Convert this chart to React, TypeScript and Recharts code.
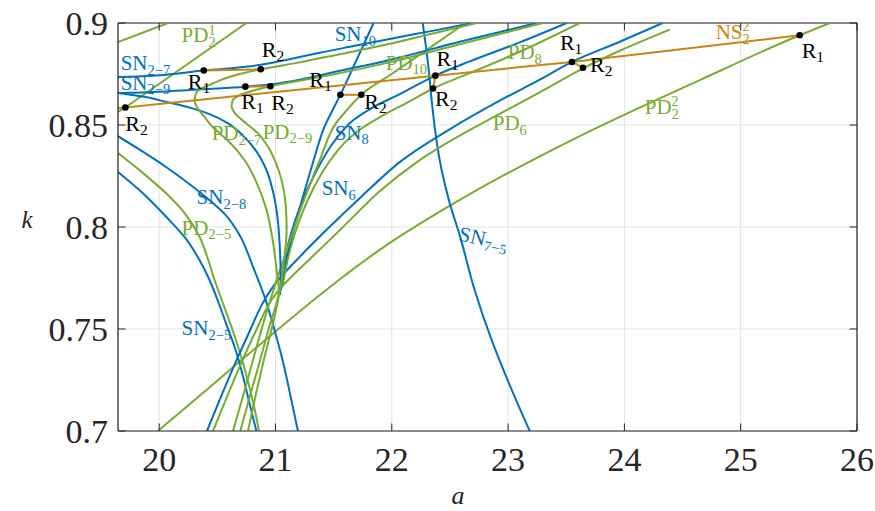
import React from "react";
import { CartesianGrid, ComposedChart, Line, ReferenceLine, Scatter, XAxis, YAxis } from "recharts";

const W = 875;
const H = 511;
const MARGIN = { top: 23, right: 18, bottom: 0, left: 0 };
const Y_AXIS_W = 118;
const X_AXIS_H = 80;
const PLOT_W = W - MARGIN.left - MARGIN.right - Y_AXIS_W;
const PLOT_H = H - MARGIN.top - MARGIN.bottom - X_AXIS_H;
const TICK_LEN = 7.5;

const A_MIN = 19.646;
const A_MAX = 26;
const K_MIN = 0.7;
const K_MAX = 0.9;

const BLUE = "#0072BD";
const GREEN = "#77AC30";
const ORANGE = "#c8870f";
const AXIS = "#262626";
const SERIF = '"Liberation Serif", "DejaVu Serif", serif';

const xTicks = [20, 21, 22, 23, 24, 25, 26];
const yTicks = [0.7, 0.75, 0.8, 0.85, 0.9];

// saddle-node curves, [a, k]
const sn27 = [[19.646, 0.8735], [20.004, 0.8744], [20.383, 0.8767], [20.623, 0.8778], [20.873, 0.8795], [21.122, 0.8822], [21.38, 0.8854], [21.681, 0.8888], [21.982, 0.8922], [22.326, 0.8959], [22.696, 0.9]];
const sn29Upper = [[19.646, 0.8657], [20.004, 0.8663], [20.262, 0.8672], [20.503, 0.8679], [20.741, 0.8688], [20.967, 0.87], [21.208, 0.8722], [21.524, 0.8762], [21.982, 0.8819], [22.584, 0.8908], [23.246, 0.9]];
const sn29Lower = [[19.646, 0.8657], [19.875, 0.8638], [20.062, 0.8613], [20.262, 0.8585], [20.434, 0.8553], [20.589, 0.8509], [20.718, 0.845], [20.83, 0.8376], [20.916, 0.8288], [20.976, 0.818], [21.015, 0.8058], [21.036, 0.7911], [21.045, 0.7764], [21.04, 0.7666]];
const sn28 = [[19.646, 0.8445], [19.832, 0.8379], [20.062, 0.8293], [20.245, 0.8217], [20.434, 0.8131], [20.572, 0.8058], [20.692, 0.796], [20.808, 0.7803], [20.907, 0.7656], [20.985, 0.7509], [21.065, 0.7338], [21.131, 0.7167], [21.193, 0.7]];
const sn25 = [[19.646, 0.827], [19.832, 0.818], [20.062, 0.8049], [20.219, 0.795], [20.348, 0.7837], [20.434, 0.7739], [20.503, 0.7641], [20.58, 0.7519], [20.658, 0.7396], [20.718, 0.7274], [20.77, 0.7151], [20.836, 0.7]];
const sn75 = [[22.266, 0.9], [22.292, 0.8891], [22.318, 0.8768], [22.343, 0.8621], [22.378, 0.845], [22.429, 0.8278], [22.498, 0.8117], [22.584, 0.796], [22.713, 0.769], [22.859, 0.7445], [23.014, 0.7225], [23.186, 0.7]];
const sn10 = [[21.045, 0.769], [21.079, 0.7808], [21.131, 0.793], [21.208, 0.8092], [21.303, 0.8278], [21.409, 0.8474], [21.484, 0.8565], [21.558, 0.8648], [21.698, 0.882], [21.844, 0.9]];
const sn8 = [[21.045, 0.7715], [21.088, 0.7862], [21.148, 0.7994], [21.234, 0.8131], [21.346, 0.8268], [21.475, 0.8396], [21.621, 0.8499], [21.81, 0.8577], [22.068, 0.8651], [22.375, 0.8742], [22.67, 0.8812], [23.1, 0.8905], [23.504, 0.9]];
const sn6 = [[20.411, 0.7], [20.537, 0.7176], [20.658, 0.7338], [20.778, 0.7489], [20.881, 0.7617], [20.976, 0.7705], [21.088, 0.7781], [21.234, 0.7869], [21.466, 0.8001], [21.724, 0.8141], [22.068, 0.8318], [22.498, 0.8479], [22.928, 0.8619], [23.272, 0.8722], [23.549, 0.8809], [23.96, 0.8908], [24.329, 0.9]];

// period-doubling curves, [a, k]
const pd21a = [[19.646, 0.8907], [20.076, 0.9]];
const pd21b = [[19.646, 0.8564], [19.709, 0.8586], [20.75, 0.9]];
const pd27 = [[22.73, 0.9], [22.326, 0.8945], [21.982, 0.8898], [21.552, 0.8847], [21.208, 0.8807], [20.873, 0.8773], [20.623, 0.8739], [20.434, 0.8697], [20.348, 0.8675], [20.314, 0.8651], [20.305, 0.8616], [20.331, 0.8582], [20.391, 0.8538], [20.46, 0.849], [20.589, 0.8425], [20.735, 0.8327], [20.847, 0.8205], [20.924, 0.8082], [20.976, 0.7935], [21.01, 0.7788], [21.028, 0.769], [20.95, 0.7518], [20.856, 0.7322], [20.77, 0.7151], [20.698, 0.7]];
const pd29 = [[23.298, 0.9], [22.584, 0.8896], [21.982, 0.8807], [21.524, 0.8751], [21.208, 0.8717], [20.956, 0.869], [20.821, 0.867], [20.692, 0.8646], [20.632, 0.8621], [20.623, 0.8592], [20.658, 0.8553], [20.75, 0.8507], [20.847, 0.846], [20.933, 0.8396], [21.001, 0.8318], [21.053, 0.8229], [21.088, 0.8107], [21.096, 0.7984], [21.079, 0.7862], [21.053, 0.7739], [20.985, 0.7543], [20.899, 0.7347], [20.83, 0.7176], [20.764, 0.7]];
const pd25 = [[19.646, 0.8363], [19.832, 0.8278], [20.062, 0.8164], [20.219, 0.8068], [20.348, 0.7951], [20.417, 0.7847], [20.477, 0.7739], [20.554, 0.7617], [20.632, 0.7494], [20.701, 0.7372], [20.761, 0.7249], [20.813, 0.7127], [20.858, 0.7]];
const pd10 = [[20.635, 0.7], [20.735, 0.72], [20.83, 0.7396], [20.916, 0.7568], [21.002, 0.7725], [21.062, 0.7828], [21.131, 0.7945], [21.208, 0.8073], [21.294, 0.8205], [21.38, 0.8327], [21.483, 0.8474], [21.604, 0.8567], [21.738, 0.8648], [21.982, 0.8744], [22.326, 0.8878], [22.635, 0.9]];
const pd8 = [[21.062, 0.7715], [21.114, 0.7862], [21.182, 0.7994], [21.277, 0.8131], [21.397, 0.8263], [21.543, 0.8381], [21.707, 0.8469], [21.913, 0.8543], [22.137, 0.8611], [22.355, 0.8679], [22.67, 0.8754], [23.1, 0.8859], [23.616, 0.9]];
const pd6 = [[20.463, 0.7], [20.589, 0.7176], [20.709, 0.7338], [20.83, 0.7489], [20.933, 0.7612], [21.036, 0.7695], [21.156, 0.7766], [21.303, 0.7847], [21.552, 0.7984], [21.896, 0.8175], [22.225, 0.8322], [22.498, 0.842], [22.928, 0.8555], [23.272, 0.866], [23.644, 0.8778], [23.96, 0.8864], [24.39, 0.8968]];
const pd22 = [[19.99, 0.7], [20.348, 0.7173], [20.864, 0.7423], [21.526, 0.7732], [21.896, 0.7888], [22.67, 0.8161], [23.53, 0.8421], [24.648, 0.872], [25.507, 0.894], [25.766, 0.9]];

// Neimark-Sacker branches between resonance points
const ns22 = [[19.646, 0.8582], [19.709, 0.8586], [22.375, 0.8742], [23.549, 0.8809], [25.507, 0.894]];
const nsSeg1 = [[20.383, 0.8767], [20.873, 0.8773]];
const nsSeg2 = [[20.741, 0.8688], [20.956, 0.869]];
const nsSeg3 = [[21.558, 0.8648], [21.738, 0.8648]];
const nsSeg4 = [[22.375, 0.8742], [22.355, 0.8679]];
const nsSeg5 = [[23.549, 0.8809], [23.644, 0.8781]];

// resonance points: a, k, index (1 or 2)
const rPoints = [
  [19.709, 0.8586, 2],
  [20.383, 0.8767, 1],
  [20.873, 0.8773, 2],
  [20.741, 0.8688, 1],
  [20.956, 0.869, 2],
  [21.558, 0.8648, 1],
  [21.738, 0.8648, 2],
  [22.375, 0.8742, 1],
  [22.355, 0.8679, 2],
  [23.549, 0.8809, 1],
  [23.644, 0.8781, 2],
  [25.507, 0.894, 1],
];
// label offset from each point, px
const rLabelOffset = [
  [0, 24], [-16, 18], [1, -12.5], [-4, 22], [1, 23.5], [-31, -8],
  [3, 14], [1, -10], [2, 18], [-12, -12], [7, 4], [2, 23],
];

// curve names: a, k of label baseline start
const curveNames = [
  { a: 20.193, k: 0.8905, main: "PD", sup: "1", sub: "2", c: GREEN },
  { a: 19.669, k: 0.8768, main: "SN", sub: "2−7", c: BLUE },
  { a: 19.669, k: 0.8673, main: "SN", sub: "2−9", c: BLUE },
  { a: 21.509, k: 0.891, main: "SN", sub: "10", c: BLUE },
  { a: 21.948, k: 0.877, main: "PD", sub: "10", c: GREEN },
  { a: 22.997, k: 0.8822, main: "PD", sub: "8", c: GREEN },
  { a: 24.785, k: 0.8923, main: "NS", sup: "2", sub: "2", c: ORANGE },
  { a: 24.175, k: 0.8555, main: "PD", sup: "2", sub: "2", c: GREEN },
  { a: 22.868, k: 0.8474, main: "PD", sub: "6", c: GREEN },
  { a: 21.509, k: 0.8428, main: "SN", sub: "8", c: BLUE },
  { a: 20.451, k: 0.8425, main: "PD", sub: "2−7", c: GREEN },
  { a: 20.89, k: 0.8433, main: "PD", sub: "2−9", c: GREEN },
  { a: 21.397, k: 0.8156, main: "SN", sub: "6", c: BLUE },
  { a: 20.322, k: 0.8112, main: "SN", sub: "2−8", c: BLUE },
  { a: 20.193, k: 0.7962, main: "PD", sub: "2−5", c: GREEN },
  { a: 20.193, k: 0.747, main: "SN", sub: "2−5", c: BLUE },
  { a: 22.567, k: 0.7935, main: "SN", sub: "7−5", c: BLUE, rot: 12 },
];

const toPts = (rows: number[][]) => rows.map(([a, k]) => ({ a, k }));

// curves traced left to right use monotoneX, the folded ones top to bottom use monotoneY
const curves = [
  { id: "pd21a", rows: pd21a, color: GREEN, type: "linear" },
  { id: "pd21b", rows: pd21b, color: GREEN, type: "linear" },
  { id: "pd22", rows: pd22, color: GREEN, type: "monotoneX" },
  { id: "sn25", rows: sn25, color: BLUE, type: "monotoneY" },
  { id: "pd25", rows: pd25, color: GREEN, type: "monotoneY" },
  { id: "sn28", rows: sn28, color: BLUE, type: "monotoneY" },
  { id: "sn75", rows: sn75, color: BLUE, type: "monotoneY" },
  { id: "sn6", rows: sn6, color: BLUE, type: "monotoneX" },
  { id: "pd6", rows: pd6, color: GREEN, type: "monotoneX" },
  { id: "sn8", rows: sn8, color: BLUE, type: "monotoneX" },
  { id: "pd8", rows: pd8, color: GREEN, type: "monotoneX" },
  { id: "sn10", rows: sn10, color: BLUE, type: "monotoneX" },
  { id: "pd10", rows: pd10, color: GREEN, type: "monotoneX" },
  { id: "sn29Lower", rows: sn29Lower, color: BLUE, type: "monotoneY" },
  { id: "sn29Upper", rows: sn29Upper, color: BLUE, type: "monotoneX" },
  { id: "pd29", rows: pd29, color: GREEN, type: "monotoneY" },
  { id: "sn27", rows: sn27, color: BLUE, type: "monotoneX" },
  { id: "pd27", rows: pd27, color: GREEN, type: "monotoneY" },
];
const nsLines = [ns22, nsSeg1, nsSeg2, nsSeg3, nsSeg4, nsSeg5];

const dotData = rPoints.map(([a, k, n], i) => ({ a, k, n, i }));

function XTick({ x, y, payload }: any) {
  return (
    <g>
      <line x1={x} y1={y} x2={x} y2={y - TICK_LEN} stroke={AXIS} strokeWidth={1} />
      <line x1={x} y1={y - PLOT_H} x2={x} y2={y - PLOT_H + TICK_LEN} stroke={AXIS} strokeWidth={1} />
      <text x={x} y={y + 39.5} textAnchor="middle" fontSize={34} fontFamily={SERIF} fill={AXIS}>
        {payload.value}
      </text>
    </g>
  );
}

function YTick({ x, y, payload }: any) {
  return (
    <g>
      <line x1={x} y1={y} x2={x + TICK_LEN} y2={y} stroke={AXIS} strokeWidth={1} />
      <line x1={x + PLOT_W} y1={y} x2={x + PLOT_W - TICK_LEN} y2={y} stroke={AXIS} strokeWidth={1} />
      <text x={x - 10} y={y + 11.5} textAnchor="end" fontSize={34} fontFamily={SERIF} fill={AXIS}>
        {String(payload.value)}
      </text>
    </g>
  );
}

function RDot({ cx, cy, payload }: any) {
  const [dx, dy] = rLabelOffset[payload.i];
  return (
    <g>
      <circle cx={cx} cy={cy} r={3.3} fill="#000" />
      <text x={cx + dx} y={cy + dy} fontSize={22} fontFamily={SERIF} fill="#000">
        R
        <tspan dy={4} fontSize={15.5}>
          {payload.n}
        </tspan>
      </text>
    </g>
  );
}

function CurveName({ cx, cy, payload }: any) {
  const { main, sub, sup, c, rot } = payload;
  return (
    <text
      x={cx}
      y={cy}
      fill={c}
      fontSize={21}
      fontFamily={SERIF}
      transform={rot ? `rotate(${rot} ${cx} ${cy})` : undefined}
    >
      {main}
      {sup && (
        <tspan dy={-7.5} fontSize={14}>
          {sup}
        </tspan>
      )}
      {sub && (
        <tspan dx={sup ? -7 : 0} dy={sup ? 12.5 : 4.5} fontSize={14.5}>
          {sub}
        </tspan>
      )}
    </text>
  );
}

export default function App() {
  return (
    <div style={{ position: "absolute", left: 0, top: 0, width: W, height: H, background: "#fff" }}>
      <ComposedChart width={W} height={H} margin={MARGIN}>
        <CartesianGrid stroke="#e3e3e3" strokeWidth={1} />
        <XAxis
          type="number"
          dataKey="a"
          domain={[A_MIN, A_MAX]}
          ticks={xTicks}
          allowDataOverflow
          height={X_AXIS_H}
          tickSize={0}
          tickMargin={0}
          tickLine={false}
          axisLine={{ stroke: AXIS, strokeWidth: 1.2 }}
          tick={<XTick />}
        />
        <YAxis
          type="number"
          dataKey="k"
          domain={[K_MIN, K_MAX]}
          ticks={yTicks}
          allowDataOverflow
          width={Y_AXIS_W}
          tickSize={0}
          tickMargin={0}
          tickLine={false}
          axisLine={{ stroke: AXIS, strokeWidth: 1.2 }}
          tick={<YTick />}
        />
        <ReferenceLine x={A_MAX} stroke={AXIS} strokeWidth={1.2} />
        <ReferenceLine y={K_MAX} stroke={AXIS} strokeWidth={1.2} />
        {curves.map((cv) => (
          <Line
            key={cv.id}
            data={toPts(cv.rows)}
            dataKey="k"
            type={cv.type as any}
            stroke={cv.color}
            strokeWidth={2}
            dot={false}
            activeDot={false}
            isAnimationActive={false}
            legendType="none"
          />
        ))}
        {nsLines.map((rows, i) => (
          <Line
            key={"ns" + i}
            data={toPts(rows)}
            dataKey="k"
            type="linear"
            stroke={ORANGE}
            strokeWidth={2}
            dot={false}
            activeDot={false}
            isAnimationActive={false}
            legendType="none"
          />
        ))}
        <Scatter data={dotData} dataKey="k" shape={RDot} isAnimationActive={false} legendType="none" />
        <Scatter data={curveNames} dataKey="k" shape={CurveName} isAnimationActive={false} legendType="none" />
      </ComposedChart>
      <svg width={W} height={H} style={{ position: "absolute", left: 0, top: 0, pointerEvents: "none" }}>
        <text x={458} y={504} textAnchor="middle" fontSize={26} fontStyle="italic" fontFamily={SERIF} fill={AXIS}>
          a
        </text>
        <text x={27} y={228} textAnchor="middle" fontSize={25} fontStyle="italic" fontFamily={SERIF} fill={AXIS}>
          k
        </text>
      </svg>
    </div>
  );
}
